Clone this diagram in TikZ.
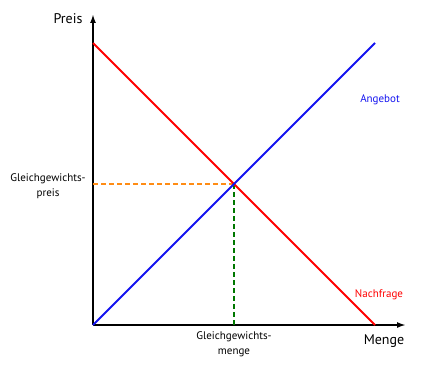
\documentclass[tikz,border=0pt]{standalone}
\usepackage{fontspec}
\setmainfont{PT Sans}
\usetikzlibrary{arrows.meta,positioning}
\definecolor{eqorange}{RGB}{255,140,20}
\definecolor{eqgreen}{RGB}{0,120,0}
\definecolor{supblue}{RGB}{20,20,240}

\begin{document}
\begin{tikzpicture}[
    x=1pt, y=-1pt,
    axis/.style={-{Latex[length=9pt,width=6pt]}, line width=2pt, black},
    curve/.style={line width=1.8pt},
    guide/.style={line width=1.8pt, dash pattern=on 5pt off 3pt},
    lbl/.style={font=\fontsize{11}{15}\selectfont, align=center, inner sep=0pt},
    axlbl/.style={font=\fontsize{14}{16}\selectfont, inner sep=0pt}
]
    \useasboundingbox (0,0) rectangle (430,369);

    % axes
    \coordinate (O) at (93,325);
    \coordinate (ytop) at (93,14);
    \coordinate (xend) at (406,325);
    \draw[axis] (O) -- (ytop);
    \draw[axis] (O) -- (xend);

    % supply and demand
    \coordinate (D1) at (93,43);
    \coordinate (D2) at (375,325);
    \coordinate (S2) at (375,43);
    \coordinate (E) at (234,184);
    \coordinate (Ey) at (93,184);
    \coordinate (Ex) at (234,325);

    \draw[guide, eqorange] (Ey) -- (E);
    \draw[guide, eqgreen] (E) -- (Ex);
    \draw[curve, red] (D1) -- (D2);
    \draw[curve, supblue] (O) -- (S2);

    % labels
    \node[axlbl] (preis) at (68,19) {Preis};
    \node[axlbl] (menge) at (384,341) {Menge};
    \node[lbl, text=supblue] (angebot) at (380,100) {Angebot};
    \node[lbl, text=red] (nachfrage) at (379,295) {Nachfrage};
    \node[lbl] (gpreis) at (48,186) {Gleichgewichts-\\preis};
    \node[lbl] (gmenge) at (234,344) {Gleichgewichts-\\menge};
\end{tikzpicture}
\end{document}
